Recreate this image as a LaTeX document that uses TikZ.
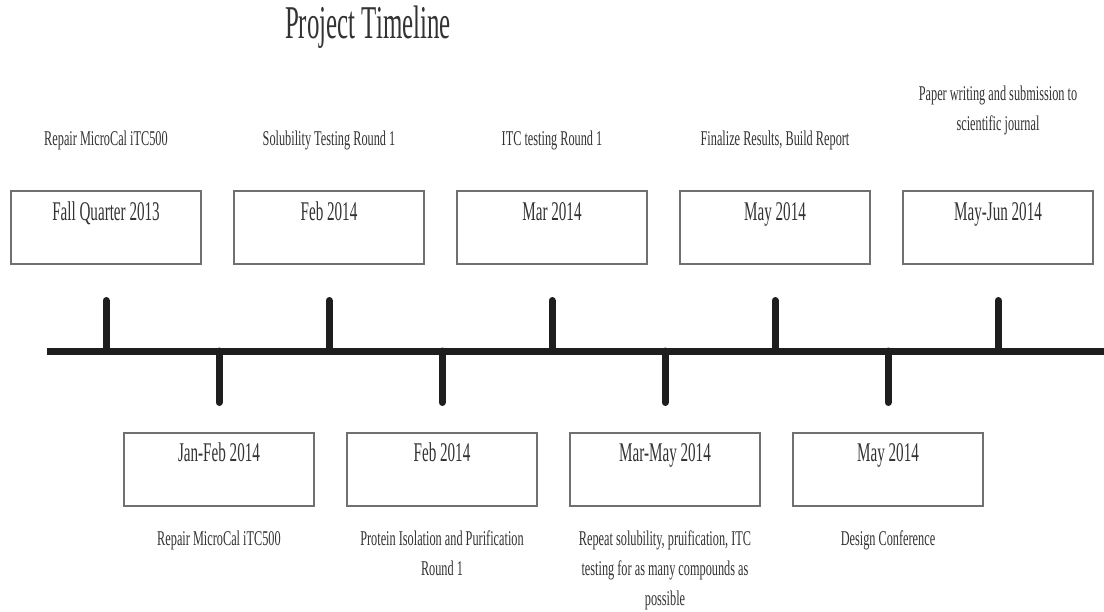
\documentclass[tikz,border=0pt]{standalone}
\usepackage{fontspec}
\newfontfamily\condfont[FakeStretch=0.56]{Liberation Serif}
\newfontfamily\lblfont[FakeStretch=0.585]{Liberation Serif}
\newfontfamily\titlefont[FakeStretch=0.53]{Liberation Serif}
\definecolor{txt}{HTML}{333333}
\definecolor{boxgray}{HTML}{707070}
\definecolor{linecol}{HTML}{1E1E1E}
\begin{document}
\begin{tikzpicture}[x=1pt,y=-1pt,
  box/.style={draw=boxgray, line width=1.2pt, minimum width=190pt, minimum height=73pt, inner sep=0pt},
  datetext/.style={font=\condfont\fontsize{27}{30}\selectfont, text=txt, inner sep=0pt, anchor=base},
  lbl/.style={font=\lblfont\fontsize{21}{30}\selectfont, text=txt, inner sep=0pt, align=center, anchor=north},
  axisline/.style={line width=7pt, draw=linecol},
  tickline/.style={line width=7pt, draw=linecol, line cap=round}]
\useasboundingbox[fill=white] (0,0) rectangle (1104,611);

\node[font=\titlefont\fontsize{47}{50}\selectfont, text=txt, anchor=base, inner sep=0pt] (title) at (368,38) {Project Timeline};

% top row
\node[box] (b1) at (106,227.5) {};
\node[box] (b2) at (329,227.5) {};
\node[box] (b3) at (552,227.5) {};
\node[box] (b4) at (775,227.5) {};
\node[box] (b5) at (998,227.5) {};
\node[datetext] (d1) at ([yshift=-30pt]b1.north) {Fall Quarter 2013};
\node[datetext] (d2) at ([yshift=-30pt]b2.north) {Feb 2014};
\node[datetext] (d3) at ([yshift=-30pt]b3.north) {Mar 2014};
\node[datetext] (d4) at ([yshift=-30pt]b4.north) {May 2014};
\node[datetext] (d5) at ([yshift=-30pt]b5.north) {May-Jun 2014};
\node[lbl] (a1) at (106,131) {Repair MicroCal iTC500};
\node[lbl] (a2) at (329,131) {Solubility Testing Round 1};
\node[lbl] (a3) at (552,131) {ITC testing Round 1};
\node[lbl] (a4) at (775,131) {Finalize Results, Build Report};
\node[lbl] (a5) at (998,86) {Paper writing and submission to\\scientific journal};

% bottom row
\node[box] (c1) at (219,469.5) {};
\node[box] (c2) at (442,469.5) {};
\node[box] (c3) at (665,469.5) {};
\node[box] (c4) at (888,469.5) {};
\node[datetext] (e1) at ([yshift=-29pt]c1.north) {Jan-Feb 2014};
\node[datetext] (e2) at ([yshift=-29pt]c2.north) {Feb 2014};
\node[datetext] (e3) at ([yshift=-29pt]c3.north) {Mar-May 2014};
\node[datetext] (e4) at ([yshift=-29pt]c4.north) {May 2014};
\node[lbl] (f1) at (219,531) {Repair MicroCal iTC500};
\node[lbl] (f2) at (442,531) {Protein Isolation and Purification\\Round 1};
\node[lbl] (f3) at (665,531) {Repeat solubility, pruification, ITC\\testing for as many compounds as\\possible};
\node[lbl] (f4) at (888,531) {Design Conference};

% axis
\coordinate (ax0) at (47,351);
\coordinate (ax1) at (1104,351);
\draw[axisline] (ax0) -- (ax1);

% ticks up
\foreach \i/\x in {1/106,2/329,3/552,4/775,5/998}{
  \coordinate (tu\i) at (\x,300.5);
  \coordinate (tl\i) at (\x,351);
  \draw[tickline] (tu\i) -- (tl\i);
}
% ticks down
\foreach \i/\x in {1/219,2/442,3/665,4/888}{
  \coordinate (bu\i) at (\x,351);
  \coordinate (bl\i) at (\x,402.5);
  \draw[tickline] (bu\i) -- (bl\i);
}
\end{tikzpicture}
\end{document}
